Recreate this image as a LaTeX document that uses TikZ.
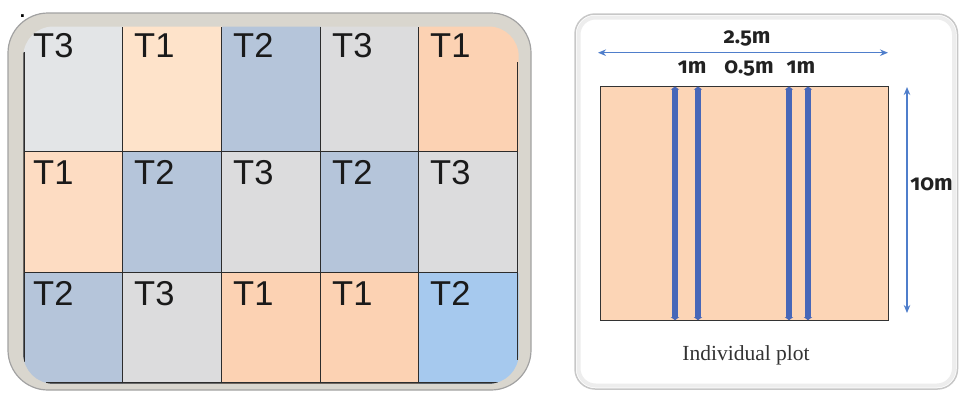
\documentclass[tikz,border=0pt]{standalone}
\usepackage{fontspec}
\setmainfont{Liberation Sans}
\newfontfamily\serifplot{Liberation Serif}
\newfontfamily\dimfont[Numbers=OldStyle]{Fira Sans}
\usetikzlibrary{arrows.meta}
\definecolor{cgray}{HTML}{DCDCDD}
\definecolor{cgrayL}{HTML}{E3E5E7}
\definecolor{cpeach}{HTML}{FDDCC2}
\definecolor{cpeachL}{HTML}{FEE3CA}
\definecolor{cpeachD}{HTML}{FCD2B3}
\definecolor{cblue}{HTML}{B5C5DA}
\definecolor{cblueL}{HTML}{A6C9EE}
\definecolor{framebeige}{HTML}{D9D6CE}
\definecolor{frameedge}{HTML}{A2A2A2}
\definecolor{gridline}{HTML}{2C2C2C}
\definecolor{labeltxt}{HTML}{1A1A1A}
\definecolor{plotfill}{HTML}{FCD5B6}
\definecolor{barblue}{HTML}{4767B8}
\definecolor{dimblue}{HTML}{4F7ECB}
\definecolor{dimtxt}{HTML}{222222}
\tikzset{
  tlabel/.style={anchor=base west, inner sep=0pt, font=\fontsize{34.5}{36}\selectfont, text=labeltxt},
  dimtext/.style={inner sep=0pt, font=\dimfont\bfseries\fontsize{22}{24}\selectfont, text=dimtxt},
  dimarrow/.style={draw=dimblue, line width=1.3pt, {Stealth[length=8pt,width=6.5pt]}-{Stealth[length=8pt,width=6.5pt]}},
  plotbar/.style={draw=barblue, line width=6pt, {Triangle[length=3pt,width=8pt]}-{Triangle[length=3pt,width=8pt]}},
  gline/.style={draw=gridline, line width=1.4pt}
}
\begin{document}
\begin{tikzpicture}[x=1pt,y=-1pt]
\useasboundingbox (0,0) rectangle (959,392);
% ---------- left panel ----------
\node[anchor=base, inner sep=0pt, font=\bfseries\fontsize{19}{20}\selectfont] (dot) at (22.5,17.6) {.};
\draw[fill=framebeige, draw=frameedge, line width=1.2pt, rounded corners=40pt] (8,13) rectangle (531,390);
\begin{scope}
\clip[rounded corners=30pt] (23.3,26.5) rectangle (518.7,383.7);
% row 1
\fill[cgrayL]  (20,24) rectangle (122.5,151.7);
\fill[cpeachL] (122.5,24) rectangle (221.5,151.7);
\fill[cblue]   (221.5,24) rectangle (320.5,151.7);
\fill[cgray]   (320.5,24) rectangle (418.5,151.7);
\fill[cpeachD] (418.5,24) rectangle (522,151.7);
% row 2
\fill[cpeach]  (20,151.7) rectangle (122.5,272.7);
\fill[cblue]   (122.5,151.7) rectangle (221.5,272.7);
\fill[cgray]   (221.5,151.7) rectangle (320.5,272.7);
\fill[cblue]   (320.5,151.7) rectangle (418.5,272.7);
\fill[cgray]   (418.5,151.7) rectangle (522,272.7);
% row 3
\fill[cblue]   (20,272.7) rectangle (122.5,386);
\fill[cgray]   (122.5,272.7) rectangle (221.5,386);
\fill[cpeachD] (221.5,272.7) rectangle (320.5,386);
\fill[cpeachD] (320.5,272.7) rectangle (418.5,386);
\fill[cblueL]  (418.5,272.7) rectangle (522,386);
% grid lines (clipped to the rounded area)
\draw[gline] (122.5,27) -- (122.5,383);
\draw[gline] (221.5,27) -- (221.5,383);
\draw[gline] (320.5,27) -- (320.5,383);
\draw[gline] (418.5,27) -- (418.5,383);
\draw[gline] (24,151.7) -- (518,151.7);
\draw[gline] (24,272.7) -- (518,272.7);
\draw[gline] (24,52) -- (24,362);
\draw[gline] (46,383) -- (498,383);
\draw[gline] (518,62) -- (518,360);
\end{scope}
% labels
\node[tlabel] (r1c1) at (33,57) {T3};
\node[tlabel] (r1c2) at (134,57) {T1};
\node[tlabel] (r1c3) at (233,57) {T2};
\node[tlabel] (r1c4) at (332,57) {T3};
\node[tlabel] (r1c5) at (430,57) {T1};
\node[tlabel] (r2c1) at (33,184.5) {T1};
\node[tlabel] (r2c2) at (134,184.5) {T2};
\node[tlabel] (r2c3) at (233,184.5) {T3};
\node[tlabel] (r2c4) at (332,184.5) {T2};
\node[tlabel] (r2c5) at (430,184.5) {T3};
\node[tlabel] (r3c1) at (33,305) {T2};
\node[tlabel] (r3c2) at (134,305) {T3};
\node[tlabel] (r3c3) at (233,305) {T1};
\node[tlabel] (r3c4) at (332,305) {T1};
\node[tlabel] (r3c5) at (430,305) {T2};
% ---------- right panel ----------
\draw[fill=white, draw=black!22, line width=1.5pt, rounded corners=20pt] (575,14) rectangle (957.5,389);
\draw[draw=black!7, line width=4pt, rounded corners=17pt] (578.5,17.5) rectangle (954,385.5);
\node[draw=black!80, line width=0.9pt, fill=plotfill, minimum width=287.3pt, minimum height=234.7pt, inner sep=0pt] (plot) at (744.35,203.35) {};
\foreach \bx [count=\i] in {675,698,789,808} {
  \coordinate (bt\i) at (\bx,86.5);
  \coordinate (bb\i) at (\bx,320.2);
  \draw[plotbar] (bt\i) -- (bb\i);
}
\coordinate (wl) at (598,52.7);
\coordinate (wr) at (888,52.7);
\draw[dimarrow] (wl) -- (wr);
\coordinate (ht) at (907,87);
\coordinate (hb) at (907,313);
\draw[dimarrow] (ht) -- (hb);
\node[dimtext] (wlab) at (747,38) {2.5m};
\node[dimtext] (parts) at (746.5,68) {1m\hspace{18pt}0.5m\hspace{13pt}1m};
\node[dimtext] (hlab) at (931.5,184) {10m};
\node[inner sep=0pt, font=\serifplot\fontsize{21.5}{24}\selectfont, text=black!80] (cap) at (746,355) {Individual plot};
\end{tikzpicture}
\end{document}
